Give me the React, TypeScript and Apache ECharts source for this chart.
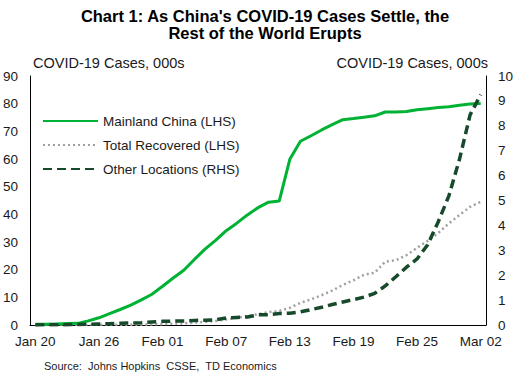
import React, { useEffect, useRef } from "react";
import * as echarts from "echarts";

const dates = [
  "Jan 20", "Jan 21", "Jan 22", "Jan 23", "Jan 24", "Jan 25", "Jan 26", "Jan 27", "Jan 28", "Jan 29", "Jan 30", "Jan 31",
  "Feb 01", "Feb 02", "Feb 03", "Feb 04", "Feb 05", "Feb 06", "Feb 07", "Feb 08", "Feb 09", "Feb 10", "Feb 11", "Feb 12",
  "Feb 13", "Feb 14", "Feb 15", "Feb 16", "Feb 17", "Feb 18", "Feb 19", "Feb 20", "Feb 21", "Feb 22", "Feb 23", "Feb 24",
  "Feb 25", "Feb 26", "Feb 27", "Feb 28", "Feb 29", "Mar 01", "Mar 02",
];

const mainlandChina = [
  0.3, 0.3, 0.4, 0.5, 0.6, 1.5, 2.6, 4.1, 5.6, 7.2, 9.1, 11.1,
  14.0, 17.0, 19.8, 23.7, 27.4, 30.6, 34.1, 36.8, 39.8, 42.4, 44.4, 44.8,
  59.9, 66.4, 68.4, 70.5, 72.4, 74.2, 74.6, 75.1, 75.6, 77.0, 77.0, 77.2,
  77.8, 78.2, 78.6, 78.9, 79.4, 79.9, 80.1,
];

const totalRecovered = [
  0.025, 0.025, 0.028, 0.03, 0.036, 0.039, 0.049, 0.058, 0.101, 0.12, 0.135, 0.214,
  0.275, 0.463, 0.614, 0.843, 1.115, 1.476, 1.998, 2.596, 3.218, 3.914, 4.636, 5.082,
  6.217, 7.977, 9.298, 10.755, 12.462, 14.474, 16.121, 18.177, 18.89, 22.886, 23.394, 25.227,
  27.905, 30.384, 33.277, 36.711, 39.782, 42.716, 44.5,
];

const otherLocations = [
  0.004, 0.006, 0.007, 0.01, 0.021, 0.028, 0.043, 0.05, 0.069, 0.079, 0.093, 0.125,
  0.147, 0.157, 0.165, 0.185, 0.195, 0.207, 0.281, 0.306, 0.321, 0.408, 0.416, 0.462,
  0.473, 0.527, 0.617, 0.711, 0.824, 0.925, 1.02, 1.12, 1.269, 1.571, 1.936, 2.32,
  2.652, 3.222, 4.146, 5.184, 6.655, 8.437, 9.25,
];

const FONT = "'Liberation Sans', Arial, sans-serif";

export default function App() {
  const ref = useRef<HTMLDivElement>(null);
  useEffect(() => {
    if (!ref.current) return;
    const chart = echarts.init(ref.current, null, { renderer: "svg" });
    chart.setOption({
      animation: false,
      backgroundColor: "#ffffff",
      textStyle: { fontFamily: FONT },
      grid: { left: 30, right: 30, top: 76, bottom: 60, containLabel: false },
      legend: {
        orient: "vertical",
        left: 37,
        top: 109,
        itemWidth: 55,
        itemHeight: 14,
        itemGap: 10,
        itemStyle: { opacity: 0 },
        textStyle: { fontSize: 13.5, color: "#1a1a1a", fontFamily: FONT },
        data: ["Mainland China (LHS)", "Total Recovered (LHS)", "Other Locations (RHS)"],
      },
      xAxis: {
        type: "category",
        data: dates,
        boundaryGap: true,
        axisLine: { show: true, lineStyle: { color: "#000", width: 1 } },
        axisTick: { show: false },
        axisLabel: { interval: 5, fontSize: 13.5, color: "#1a1a1a", margin: 9, fontFamily: FONT },
        splitLine: { show: false },
      },
      yAxis: [
        {
          type: "value",
          min: 0,
          max: 90,
          interval: 10,
          axisLine: { show: true, lineStyle: { color: "#000", width: 1 } },
          axisTick: { show: false },
          axisLabel: { fontSize: 13.5, color: "#1a1a1a", margin: 12, fontFamily: FONT },
          splitLine: { show: false },
        },
        {
          type: "value",
          min: 0,
          max: 10,
          interval: 1,
          position: "right",
          axisLine: { show: true, lineStyle: { color: "#000", width: 1 } },
          axisTick: { show: false },
          axisLabel: { fontSize: 13.5, color: "#1a1a1a", margin: 12, fontFamily: FONT },
          splitLine: { show: false },
        },
      ],
      series: [
        {
          name: "Mainland China (LHS)",
          type: "line",
          data: mainlandChina,
          yAxisIndex: 0,
          symbol: "none",
          lineStyle: { color: "#00b233", width: 3 },
          itemStyle: { color: "#00b233" },
          z: 3,
        },
        {
          name: "Total Recovered (LHS)",
          type: "line",
          data: totalRecovered,
          yAxisIndex: 0,
          symbol: "none",
          lineStyle: { color: "#a0a0a0", width: 2.5, type: [2, 3] },
          itemStyle: { color: "#a0a0a0" },
          z: 2,
        },
        {
          name: "Other Locations (RHS)",
          type: "line",
          data: otherLocations,
          yAxisIndex: 1,
          symbol: "none",
          lineStyle: { color: "#174a2a", width: 3.5, type: [9, 5] },
          itemStyle: { color: "#174a2a" },
          z: 4,
        },
      ],
      graphic: [
        {
          type: "text",
          x: 265,
          y: 16,
          style: {
            text: "Chart 1: As China's COVID-19 Cases Settle, the",
            font: `bold 16.5px ${FONT}`,
            fill: "#000",
            textAlign: "center",
            textVerticalAlign: "middle",
          },
        },
        {
          type: "text",
          x: 265,
          y: 33,
          style: {
            text: "Rest of the World Erupts",
            font: `bold 16.5px ${FONT}`,
            fill: "#000",
            textAlign: "center",
            textVerticalAlign: "middle",
          },
        },
        {
          type: "text",
          x: 33,
          y: 63,
          style: {
            text: "COVID-19 Cases, 000s",
            font: `14.5px ${FONT}`,
            fill: "#1a1a1a",
            textAlign: "left",
            textVerticalAlign: "middle",
          },
        },
        {
          type: "text",
          x: 488,
          y: 63,
          style: {
            text: "COVID-19 Cases, 000s",
            font: `14.5px ${FONT}`,
            fill: "#1a1a1a",
            textAlign: "right",
            textVerticalAlign: "middle",
          },
        },
        {
          type: "text",
          x: 44,
          y: 366,
          style: {
            text: "Source:  Johns Hopkins  CSSE,  TD Economics",
            font: `11px ${FONT}`,
            fill: "#1a1a1a",
            textAlign: "left",
            textVerticalAlign: "middle",
          },
        },
      ],
    });
    return () => chart.dispose();
  }, []);
  return <div ref={ref} style={{ width: 516, height: 385, position: "absolute", left: 0, top: 0 }} />;
}
